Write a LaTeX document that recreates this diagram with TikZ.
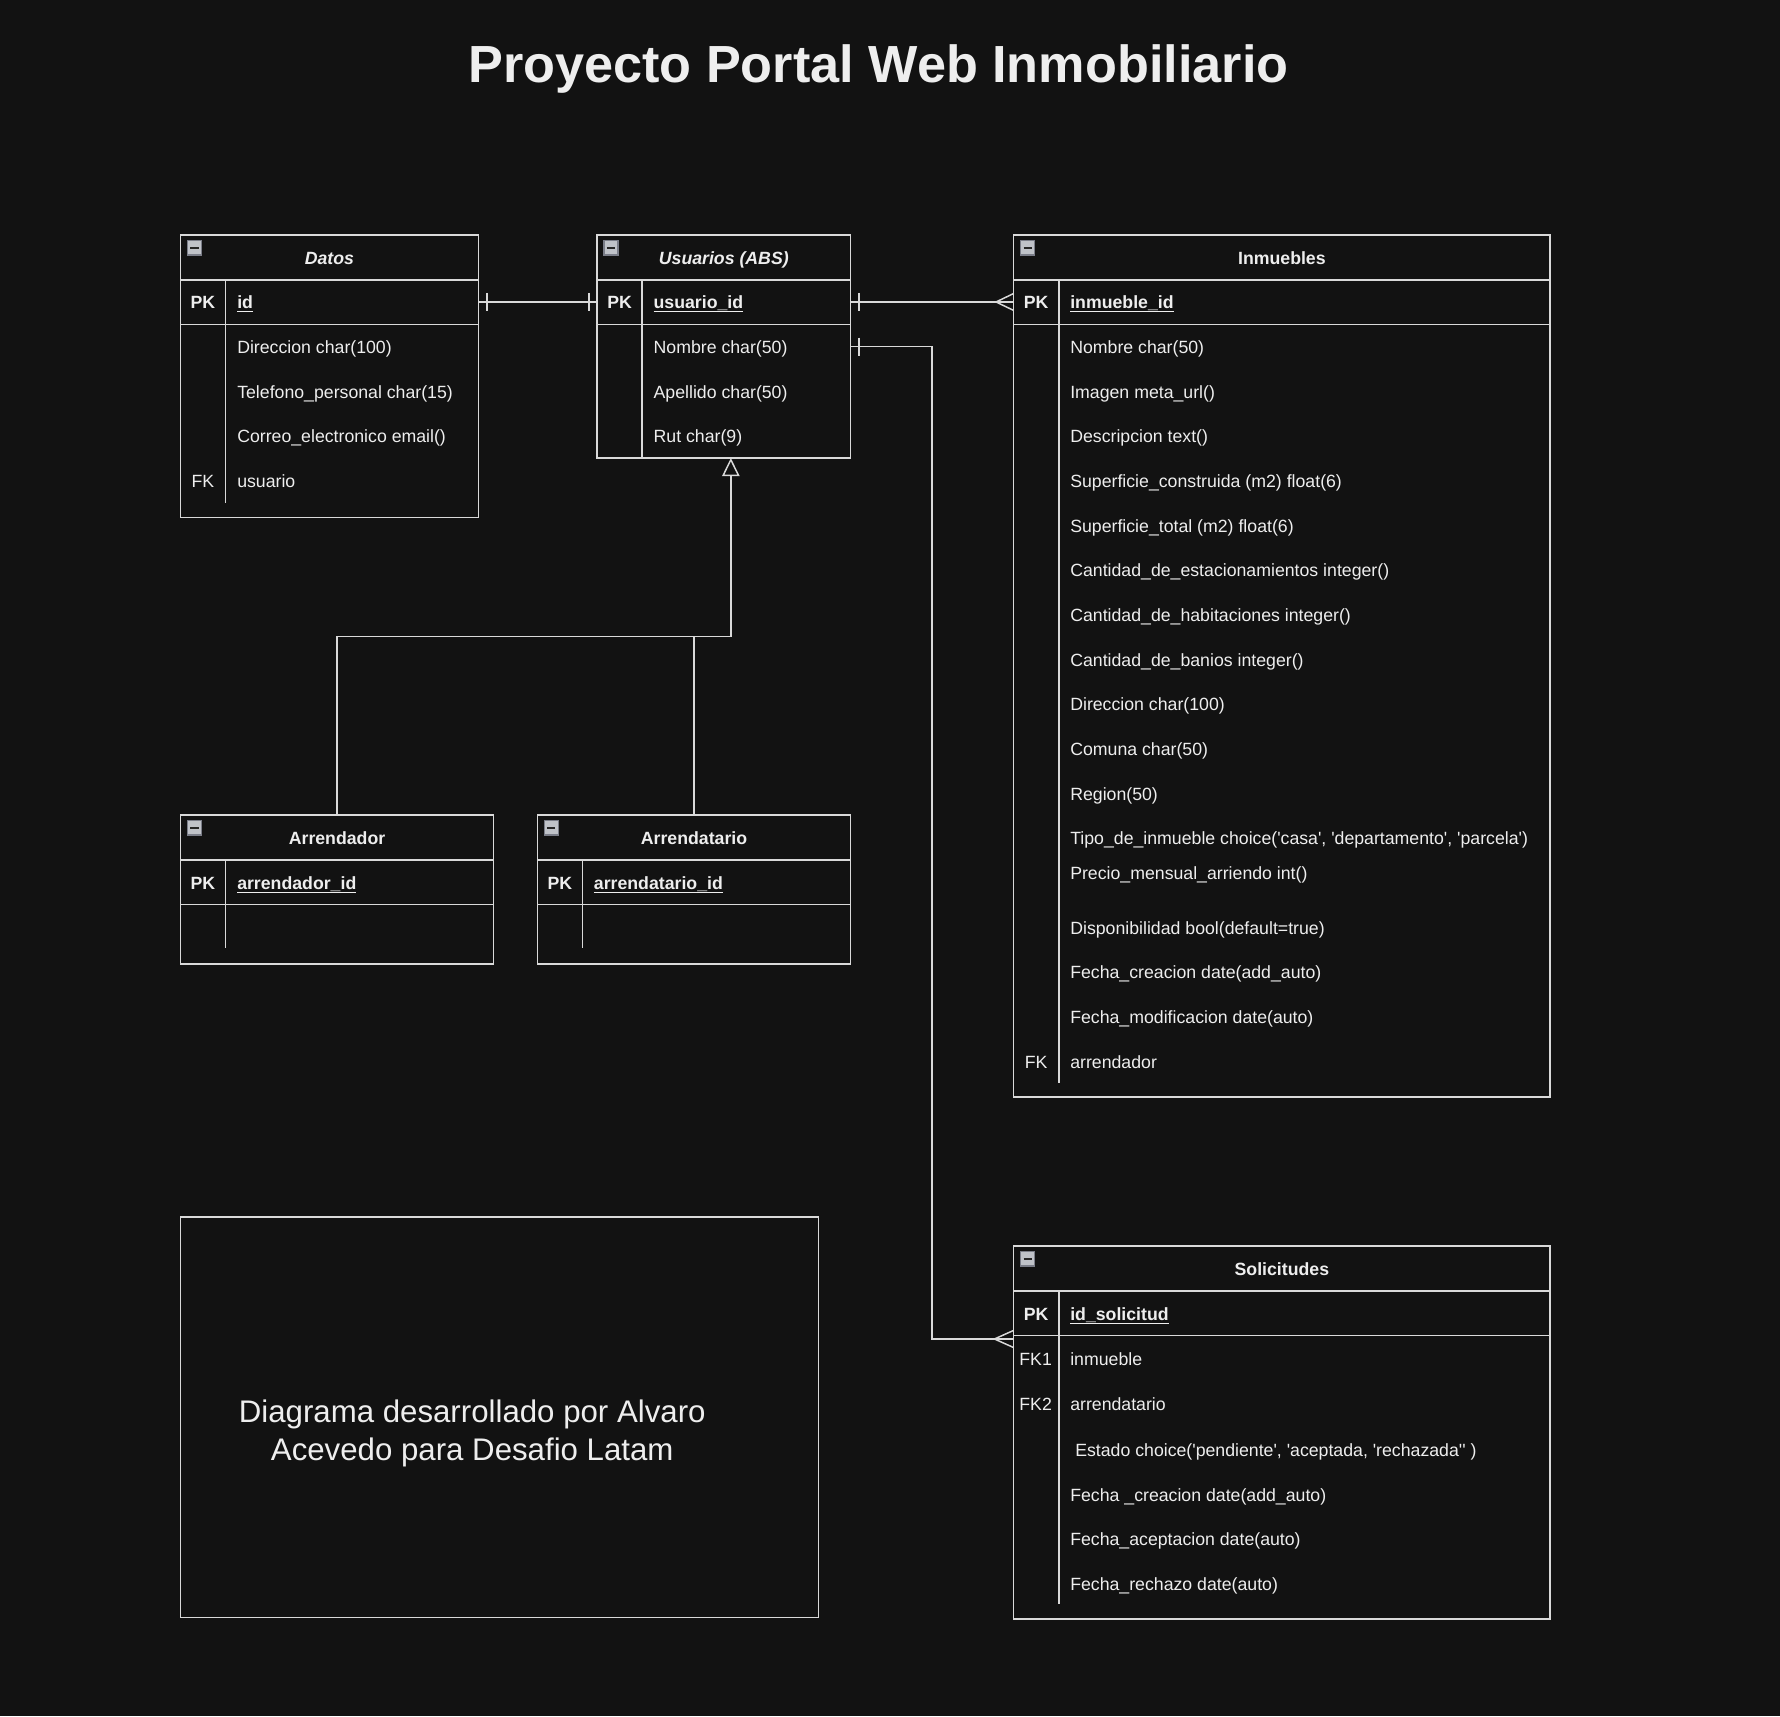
\documentclass[tikz,border=0pt]{standalone}
\usepackage{fontspec}
\newfontfamily\lib{Liberation Sans}
\usetikzlibrary{arrows.meta}
\definecolor{bg}{HTML}{121212}
\definecolor{lc}{HTML}{D9D9D9}
\definecolor{tc}{HTML}{EEEEEE}
\definecolor{icf}{HTML}{BFC2C8}
\definecolor{icb}{HTML}{7A7D88}
\tikzset{
  ln/.style={draw=lc, line width=1.3pt},
  tbl/.style={ln, rectangle, anchor=north west, inner sep=0pt, outer sep=0pt},
  icon/.style={rectangle, fill=icf, draw=icb, line width=1.2pt, minimum size=12.5pt, inner sep=0pt, outer sep=0pt, anchor=north west},
  minus/.style={draw=black!85, line width=1.6pt},
  txt/.style={text=tc, inner sep=0pt, outer sep=0pt, anchor=base west, font=\lib\fontsize{15.6}{18}\selectfont},
  keyt/.style={txt, anchor=base},
  keyb/.style={keyt, font=\lib\bfseries\fontsize{15.6}{18}\selectfont},
  pkname/.style={txt, font=\lib\bfseries\fontsize{15.6}{18}\selectfont},
  hdr/.style={keyb},
  hdri/.style={keyt, font=\lib\bfseries\itshape\fontsize{15.6}{18}\selectfont},
  uline/.style={draw=tc, line width=1pt},
  notet/.style={text=tc, inner sep=0pt, outer sep=0pt, anchor=base, font=\lib\fontsize{27.5}{33}\selectfont},
  titlet/.style={text=tc, inner sep=0pt, outer sep=0pt, anchor=base, font=\lib\bfseries\fontsize{46}{50}\selectfont},
}
% name, x, y, w, h, divider end (relative)
\newcommand{\ertab}[6]{%
  \node[tbl, minimum width=#4pt, minimum height=#5pt] (#1) at (#2,#3) {};
  \node[icon] (#1-ic) at ([shift={(6,5)}]#1.north west) {};
  \draw[minus] ([xshift=2.6pt]#1-ic.west) -- ([xshift=-2.6pt]#1-ic.east);
  \draw[ln] ([shift={(0,39.5)}]#1.north west) -- ([shift={(0,39.5)}]#1.north east);
  \draw[ln] ([shift={(0,78.8)}]#1.north west) -- ([shift={(0,78.8)}]#1.north east);
  \draw[ln] ([shift={(39.7,39.5)}]#1.north west) -- ([shift={(39.7,#6)}]#1.north west);
}
\newcommand{\ulin}[1]{\draw[uline] ([yshift=-2.6pt]#1.base west) -- ([yshift=-2.6pt]#1.base east);}
\begin{document}
\begin{tikzpicture}[x=1pt, y=-1pt]
\fill[bg] (0,0) rectangle (1568,1512);
\useasboundingbox (0,0) rectangle (1568,1512);

\node[titlet] (title) at (773.7,72.5) {Proyecto Portal Web Inmobiliario};

% ---------------- Datos
\ertab{dat}{159}{207}{262.5}{249}{235.8}
\node[hdri] (dat-h) at (290.2,233) {Datos};
\node[keyb] (dat-k0) at (178.8,272) {PK};
\node[pkname] (dat-n0) at (209,272) {id};
\ulin{dat-n0}
\node[txt] (dat-n1) at (209,311.4) {Direccion char(100)};
\node[txt] (dat-n2) at (209,350.8) {Telefono\_personal char(15)};
\node[txt] (dat-n3) at (209,390.1) {Correo\_electronico email()};
\node[keyt] (dat-k4) at (178.8,429.5) {FK};
\node[txt] (dat-n4) at (209,429.5) {usuario};

% ---------------- Usuarios
\ertab{usu}{526}{207}{223.3}{196.5}{196.5}
\node[hdri] (usu-h) at (637.6,233) {Usuarios (ABS)};
\node[keyb] (usu-k0) at (545.8,272) {PK};
\node[pkname] (usu-n0) at (575.8,272) {usuario\_id};
\ulin{usu-n0}
\node[txt] (usu-n1) at (575.8,311.4) {Nombre char(50)};
\node[txt] (usu-n2) at (575.8,350.8) {Apellido char(50)};
\node[txt] (usu-n3) at (575.8,390.1) {Rut char(9)};

% ---------------- Inmuebles
\ertab{inm}{893}{207}{472.5}{759.5}{746.7}
\node[hdr] (inm-h) at (1129.2,233) {Inmuebles};
\node[keyb] (inm-k0) at (912.8,272) {PK};
\node[pkname] (inm-n0) at (942.8,272) {inmueble\_id};
\ulin{inm-n0}
\node[txt] (inm-n1) at (942.8,311.4) {Nombre char(50)};
\node[txt] (inm-n2) at (942.8,350.8) {Imagen meta\_url()};
\node[txt] (inm-n3) at (942.8,390.1) {Descripcion text()};
\node[txt] (inm-n4) at (942.8,429.5) {Superficie\_construida (m2) float(6)};
\node[txt] (inm-n5) at (942.8,468.8) {Superficie\_total (m2) float(6)};
\node[txt] (inm-n6) at (942.8,508.2) {Cantidad\_de\_estacionamientos integer()};
\node[txt] (inm-n7) at (942.8,547.5) {Cantidad\_de\_habitaciones integer()};
\node[txt] (inm-n8) at (942.8,586.9) {Cantidad\_de\_banios integer()};
\node[txt] (inm-n9) at (942.8,626.2) {Direccion char(100)};
\node[txt] (inm-n10) at (942.8,665.6) {Comuna char(50)};
\node[txt] (inm-n11) at (942.8,705.0) {Region(50)};
\node[txt] (inm-n12) at (942.8,744.3) {Tipo\_de\_inmueble choice('casa', 'departamento', 'parcela')};
\node[txt] (inm-n13) at (942.8,774.5) {Precio\_mensual\_arriendo int()};
\node[txt] (inm-n14) at (942.8,823.0) {Disponibilidad bool(default=true)};
\node[txt] (inm-n15) at (942.8,862.3) {Fecha\_creacion date(add\_auto)};
\node[txt] (inm-n16) at (942.8,901.7) {Fecha\_modificacion date(auto)};
\node[keyt] (inm-k17) at (912.8,941.0) {FK};
\node[txt] (inm-n17) at (942.8,941.0) {arrendador};

% ---------------- Arrendador
\ertab{arr}{159}{718}{275.8}{131}{117.4}
\node[hdr] (arr-h) at (296.9,744) {Arrendador};
\node[keyb] (arr-k0) at (178.8,783.3) {PK};
\node[pkname] (arr-n0) at (209,783.3) {arrendador\_id};
\ulin{arr-n0}

% ---------------- Arrendatario
\ertab{ata}{473.4}{718}{276}{131}{117.4}
\node[hdr] (ata-h) at (611.4,744) {Arrendatario};
\node[keyb] (ata-k0) at (493.2,783.3) {PK};
\node[pkname] (ata-n0) at (523.2,783.3) {arrendatario\_id};
\ulin{ata-n0}

% ---------------- Solicitudes
\ertab{sol}{893}{1097.6}{472.5}{328.6}{315.7}
\node[hdr] (sol-h) at (1129.2,1123.6) {Solicitudes};
\node[keyb] (sol-k0) at (912.8,1163) {PK};
\node[pkname] (sol-n0) at (942.8,1163) {id\_solicitud};
\ulin{sol-n0}
\node[keyt] (sol-k1) at (912.3,1203.2) {FK1};
\node[txt] (sol-n1) at (942.8,1203.2) {inmueble};
\node[keyt] (sol-k2) at (912.3,1242.8) {FK2};
\node[txt] (sol-n2) at (942.8,1242.8) {arrendatario};
\node[txt] (sol-n3) at (947.2,1282.7) {Estado choice('pendiente', 'aceptada, 'rechazada'' )};
\node[txt] (sol-n4) at (942.8,1322.4) {Fecha \_creacion date(add\_auto)};
\node[txt] (sol-n5) at (942.8,1361.7) {Fecha\_aceptacion date(auto)};
\node[txt] (sol-n6) at (942.8,1400.8) {Fecha\_rechazo date(auto)};

% ---------------- Note
\node[tbl, minimum width=562pt, minimum height=353pt] (note) at (159,1072) {};
\node[notet] (note1) at (416,1253.4) {Diagrama desarrollado por Alvaro};
\node[notet] (note2) at (416,1286.9) {Acevedo para Desafio Latam};

% ---------------- Connectors
\coordinate (rowPK) at (0,266);
\coordinate (rowNom) at (0,305.4);
\coordinate (rowSol) at (0,1179.5);
\coordinate (rowInh) at (0,560.8);
\coordinate (inhx) at (643.8,0);
\coordinate (solx) at (820.8,0);

% Datos -- Usuarios (one to one)
\coordinate (c1a) at (dat.east |- rowPK);
\coordinate (c1b) at (usu.west |- rowPK);
\draw[ln] (c1a) -- (c1b);
\draw[ln] ([shift={(7.5,-8)}]c1a) -- ([shift={(7.5,8)}]c1a);
\draw[ln] ([shift={(-7,-8)}]c1b) -- ([shift={(-7,8)}]c1b);

% Usuarios -- Inmuebles (one to many)
\coordinate (c2a) at (usu.east |- rowPK);
\coordinate (c2b) at (inm.west |- rowPK);
\draw[ln] (c2a) -- (c2b);
\draw[ln] ([shift={(7.2,-8)}]c2a) -- ([shift={(7.2,8)}]c2a);
\draw[ln] ([shift={(-15.6,0)}]c2b) -- ([shift={(0,-7.5)}]c2b);
\draw[ln] ([shift={(-15.6,0)}]c2b) -- ([shift={(0,7.5)}]c2b);

% Usuarios -- Solicitudes (one to many)
\coordinate (c3a) at (usu.east |- rowNom);
\coordinate (c3b) at (sol.west |- rowSol);
\draw[ln] (c3a) -- (rowNom -| solx) -- (rowSol -| solx) -- (c3b);
\draw[ln] ([shift={(7.2,-8)}]c3a) -- ([shift={(7.2,8)}]c3a);
\draw[ln] ([shift={(-17,0)}]c3b) -- ([shift={(0,-7.6)}]c3b);
\draw[ln] ([shift={(-17,0)}]c3b) -- ([shift={(0,7.6)}]c3b);

% Inheritance
\draw[ln, -{Triangle[open, length=16pt, width=15.4pt]}] (arr.north) |- (rowInh -| inhx) -- (usu.south -| inhx);
\draw[ln] (ata.north) -- (ata.north |- rowInh);
\end{tikzpicture}
\end{document}
